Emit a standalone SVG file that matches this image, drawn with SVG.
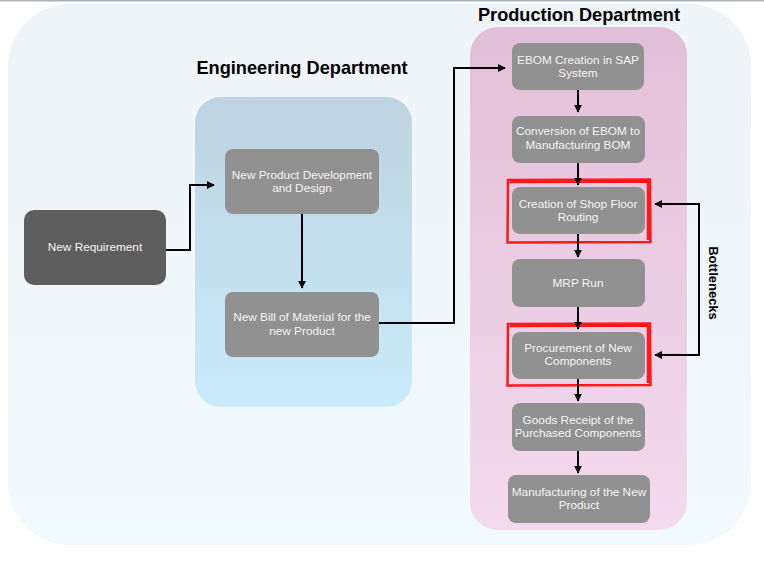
<svg xmlns="http://www.w3.org/2000/svg" width="764" height="569" viewBox="0 0 764 569">
<defs>
<linearGradient id="gOuter" x1="0" y1="0" x2="0" y2="1"><stop offset="0" stop-color="#eff4f8"/><stop offset="1" stop-color="#f1fafe"/></linearGradient>
<linearGradient id="gBlue" x1="0" y1="0" x2="0" y2="1"><stop offset="0" stop-color="#bed3e1"/><stop offset="1" stop-color="#c9ebfb"/></linearGradient>
<linearGradient id="gPink" x1="0" y1="0" x2="0" y2="1"><stop offset="0" stop-color="#e2bfd8"/><stop offset="1" stop-color="#f4daee"/></linearGradient>
<marker id="arr" viewBox="0 0 10 10" refX="9" refY="5" markerWidth="4" markerHeight="4" orient="auto-start-reverse" markerUnits="strokeWidth">
<path d="M0,0 L10,5 L0,10 z" fill="#000"/>
</marker>
<style>
.node{fill:#919191}
.dark{fill:#5e5e5e}
.lbl{font-family:"Liberation Sans",Arial,sans-serif;font-size:11.8px;fill:#f4f4f4;text-anchor:middle}
.title{font-family:"Liberation Sans",Arial,sans-serif;font-size:18.2px;font-weight:bold;fill:#000;text-anchor:middle}
.conn{fill:none;stroke:#000;stroke-width:2}
.hl{fill:none;stroke:#ff1a1a;stroke-width:2.5}
</style>
</defs>
<rect x="0" y="0" width="764" height="569" fill="#ffffff"/>
<rect x="0" y="0" width="764" height="1.5" fill="#aab2bb"/>
<g id="outer"><rect x="8" y="4" width="743" height="541" rx="62" fill="url(#gOuter)"/></g>
<g id="engineering">
<rect x="195" y="97" width="217" height="310" rx="26" fill="url(#gBlue)"/>
<text class="title" x="302" y="74">Engineering Department</text>
</g>
<g id="production">
<rect x="470" y="27" width="217" height="503" rx="28" fill="url(#gPink)"/>
<text class="title" x="579" y="21">Production Department</text>
</g>
<g id="n-req"><rect class="dark" x="24" y="210" width="142" height="75" rx="10"/><text class="lbl" x="95" y="251">New Requirement</text></g>
<g id="n-npd"><rect class="node" x="225" y="149" width="154" height="65" rx="8"/><text class="lbl" x="302" y="179">New Product Development</text><text class="lbl" x="302" y="192">and Design</text></g>
<g id="n-bom"><rect class="node" x="225" y="292" width="154" height="65" rx="8"/><text class="lbl" x="302" y="321">New Bill of Material for the</text><text class="lbl" x="302" y="335">new Product</text></g>
<g id="n-ebom"><rect class="node" x="512" y="43" width="132" height="47" rx="8"/><text class="lbl" x="578" y="64">EBOM Creation in SAP</text><text class="lbl" x="578" y="77">System</text></g>
<g id="n-conv"><rect class="node" x="512" y="116" width="133" height="47" rx="8"/><text class="lbl" x="578" y="135">Conversion of EBOM to</text><text class="lbl" x="578" y="149">Manufacturing BOM</text></g>
<g id="n-route"><rect class="node" x="512" y="187" width="133" height="47" rx="8"/><text class="lbl" x="578" y="208">Creation of Shop Floor</text><text class="lbl" x="578" y="221">Routing</text>
<path class="hl" d="M508,180 L650,179.5 L650.5,242 L507.5,242.5 Z M510,182 L648,181.5 L648,240"/></g>
<g id="n-mrp"><rect class="node" x="512" y="259" width="133" height="48" rx="8"/><text class="lbl" x="578" y="287">MRP Run</text></g>
<g id="n-proc"><rect class="node" x="512" y="332" width="133" height="47" rx="8"/><text class="lbl" x="578" y="352">Procurement of New</text><text class="lbl" x="578" y="365">Components</text>
<path class="hl" d="M508,324 L650,323.5 L650.5,385 L507.5,385.5 Z M510,326 L648,325.5 L648,383"/></g>
<g id="n-goods"><rect class="node" x="512" y="403" width="133" height="48" rx="8"/><text class="lbl" x="578" y="424">Goods Receipt of the</text><text class="lbl" x="578" y="437">Purchased Components</text></g>
<g id="n-mfg"><rect class="node" x="508" y="475" width="142" height="48" rx="8"/><text class="lbl" x="579" y="496">Manufacturing of the New</text><text class="lbl" x="579" y="509">Product</text></g>
<g id="connectors">
<path class="conn" d="M166,250 H190 V185 H214" marker-end="url(#arr)"/>
<path class="conn" d="M302,214 V288" marker-end="url(#arr)"/>
<path class="conn" d="M379,323 H454 V68 H505" marker-end="url(#arr)"/>
<path class="conn" d="M578,90 V112" marker-end="url(#arr)"/>
<path class="conn" d="M578,163 V185" marker-end="url(#arr)"/>
<path class="conn" d="M578,234 V257" marker-end="url(#arr)"/>
<path class="conn" d="M578,307 V329" marker-end="url(#arr)"/>
<path class="conn" d="M578,379 V401" marker-end="url(#arr)"/>
<path class="conn" d="M578,451 V473" marker-end="url(#arr)"/>
<path class="conn" d="M655,204 H699 V355 H655" marker-start="url(#arr)" marker-end="url(#arr)"/>
<text x="712" y="283" transform="rotate(90 712 283)" font-family="'Liberation Sans',Arial,sans-serif" font-size="13" font-weight="bold" text-anchor="middle" dominant-baseline="middle" fill="#000">Bottlenecks</text>
</g>
</svg>
